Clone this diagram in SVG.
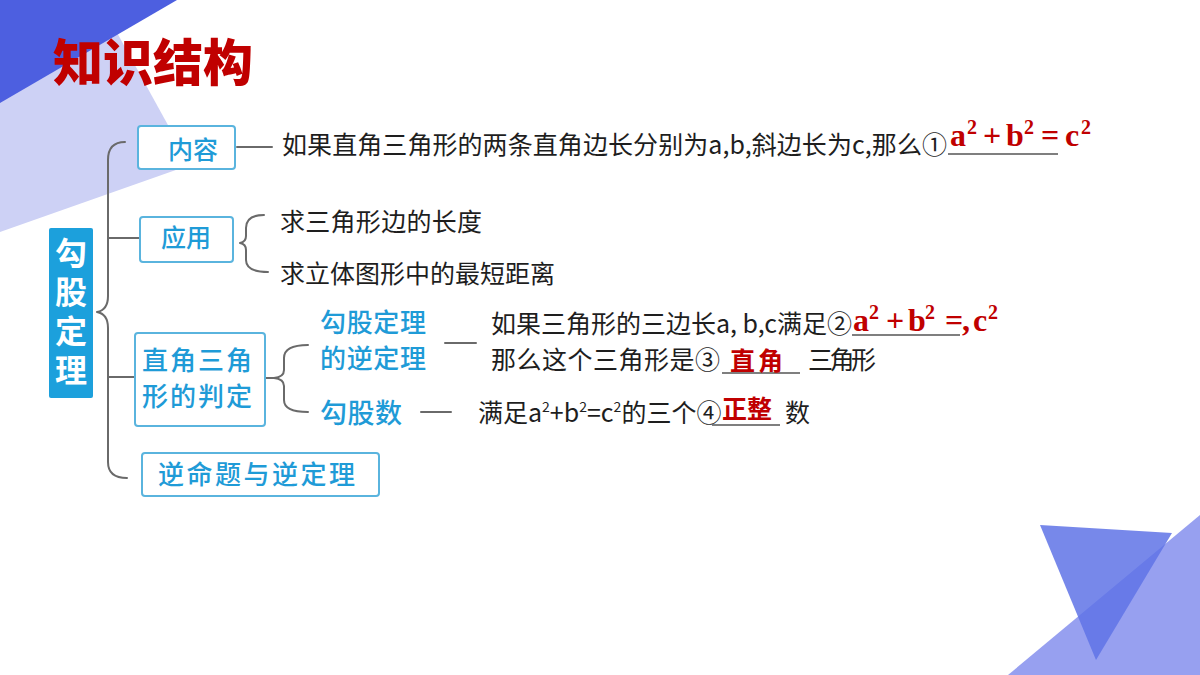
<svg xmlns="http://www.w3.org/2000/svg" width="1200" height="675" viewBox="0 0 1200 675">
<style>
.hw{font-family:"Noto Sans CJK SC","Noto Sans",sans-serif;font-size:25px;fill:#1e1e1e;font-weight:400}
.bl{font-family:"Noto Sans CJK SC","Noto Sans",sans-serif;fill:#1f9bd7;font-weight:500}
.box{fill:#ffffff;stroke:#5ab4de;stroke-width:2}
.con{fill:none;stroke:#6a6a6a;stroke-width:2;stroke-linecap:round;stroke-linejoin:round}
.ul{stroke:#555555;stroke-width:1.6}
.rm{font-family:"Liberation Serif",serif;font-weight:bold;fill:#c00000}
.rc{font-family:"Noto Sans CJK SC",sans-serif;font-weight:700;fill:#c00000}
</style>
<rect width="1200" height="675" fill="#ffffff"/>
<g id="background">
<polygon points="0,0 99,0 190,165 0,232" fill="#cdd1f5"/>
<polygon points="0,0 177,0 0,103" fill="#4d5fe0"/>
<polygon points="1008,675 1200,515 1200,675" fill="#97a0f0"/>
<polygon points="1040,525 1172,533 1096,660" fill="#5f73e6" fill-opacity="0.85"/>
</g>
<g id="title">
<text x="53" y="81" font-family="Noto Sans CJK SC,sans-serif" font-weight="900" font-size="50" fill="#c00000">知识结构</text>
</g>
<g id="connectors">
<path class="con" d="M125,142 Q108,142 108,160 L108,296 Q108,310 97,312 Q108,314 108,328 L108,462 Q108,478 127,478"/>
<path class="con" d="M108,238 H140 M108,377 H135"/>
<path class="con" d="M237,147 H272"/>
<path class="con" d="M264,215 Q246,215 246,228 L246,236 Q246,242 240,243 Q246,244 246,250 L246,260 Q246,272 268,272"/>
<path class="con" d="M308,345 Q284,345 284,358 L284,370 Q284,377 274,378 Q284,379 284,386 L284,400 Q284,412 308,412"/>
<path class="con" d="M266,378 H274"/>
<path class="con" d="M445,343 H476"/>
<path class="con" d="M421,412 H451"/>
</g>
<g id="root">
<rect x="49" y="228" width="44" height="170" rx="2" fill="#1ca0dc"/>
<text x="71" y="237" writing-mode="vertical-rl" letter-spacing="7" font-family="Noto Sans CJK SC,sans-serif" font-weight="700" font-size="32" fill="#ffffff">勾股定理</text>
</g>
<g id="node-neirong">
<rect class="box" x="138" y="126" width="97" height="43" rx="3"/>
<text class="bl" x="193" y="159" font-size="25" text-anchor="middle">内容</text>
</g>
<g id="node-yingyong">
<rect class="box" x="140" y="217" width="93" height="45" rx="3"/>
<text class="bl" x="186" y="247" font-size="25" text-anchor="middle">应用</text>
</g>
<g id="node-panding">
<rect class="box" x="135" y="333" width="130" height="93" rx="3"/>
<text class="bl" x="142" y="370" font-size="26" textLength="110" lengthAdjust="spacing">直角三角</text>
<text class="bl" x="142" y="406" font-size="26" textLength="110" lengthAdjust="spacing">形的判定</text>
</g>
<g id="node-niming">
<rect class="box" x="142" y="453" width="237" height="43" rx="3"/>
<text class="bl" x="158" y="484" font-size="26" textLength="197" lengthAdjust="spacing">逆命题与逆定理</text>
</g>
<g id="node-nidingli">
<text class="bl" x="320" y="332" font-size="26" textLength="106" lengthAdjust="spacing">勾股定理</text>
<text class="bl" x="320" y="368" font-size="26" textLength="106" lengthAdjust="spacing">的逆定理</text>
</g>
<g id="node-gougushu">
<text class="bl" x="320" y="423" font-size="27" textLength="82" lengthAdjust="spacing">勾股数</text>
</g>
<g id="text-content">
<text class="hw" x="282" y="154" textLength="665" lengthAdjust="spacing">如果直角三角形的两条直角边长分别为a,b,斜边长为c,那么①</text>
<line class="ul" x1="948" y1="154" x2="1058" y2="154"/>
<g class="rm">
<text x="950" y="146" font-size="32">a</text>
<text x="967" y="134" font-size="20">2</text>
<text x="983" y="146" font-size="32">+</text>
<text x="1006" y="146" font-size="32">b</text>
<text x="1024" y="134" font-size="20">2</text>
<text x="1041" y="146" font-size="32">=</text>
<text x="1065" y="146" font-size="32">c</text>
<text x="1081" y="134" font-size="20">2</text>
</g>
</g>
<g id="text-apply">
<text class="hw" x="280" y="231" textLength="202" lengthAdjust="spacing">求三角形边的长度</text>
<text class="hw" x="280" y="283" textLength="275" lengthAdjust="spacing">求立体图形中的最短距离</text>
</g>
<g id="text-converse">
<text class="hw" x="491" y="333" textLength="361" lengthAdjust="spacing">如果三角形的三边长a, b,c满足②</text>
<line class="ul" x1="852" y1="335" x2="960" y2="335"/>
<g class="rm">
<text x="853" y="331" font-size="32">a</text>
<text x="869" y="319" font-size="20">2</text>
<text x="886" y="331" font-size="32">+</text>
<text x="908" y="331" font-size="32">b</text>
<text x="925" y="319" font-size="20">2</text>
<text x="945" y="331" font-size="32">=</text>
<text x="962" y="331" font-size="32">,</text>
<text x="973" y="331" font-size="32">c</text>
<text x="988" y="319" font-size="20">2</text>
</g>
<text class="hw" x="491" y="369" textLength="229" lengthAdjust="spacing">那么这个三角形是③</text>
<line class="ul" x1="722" y1="373" x2="800" y2="373"/>
<text class="rc" x="730" y="370" font-size="25" textLength="53" lengthAdjust="spacing">直角</text>
<text class="hw" x="808" y="369" textLength="68" lengthAdjust="spacing">三角形</text>
</g>
<g id="text-numbers">
<text class="hw" x="478" y="422">满足a<tspan font-size="14" dy="-10">2</tspan><tspan dy="10">+b</tspan><tspan font-size="14" dy="-10">2</tspan><tspan dy="10">=c</tspan><tspan font-size="14" dy="-10">2</tspan><tspan dy="10">的三个④</tspan></text>
<line class="ul" x1="712" y1="425" x2="780" y2="425"/>
<text class="rc" x="722" y="418" font-size="25">正整</text>
<text class="hw" x="785" y="422">数</text>
</g>
</svg>
